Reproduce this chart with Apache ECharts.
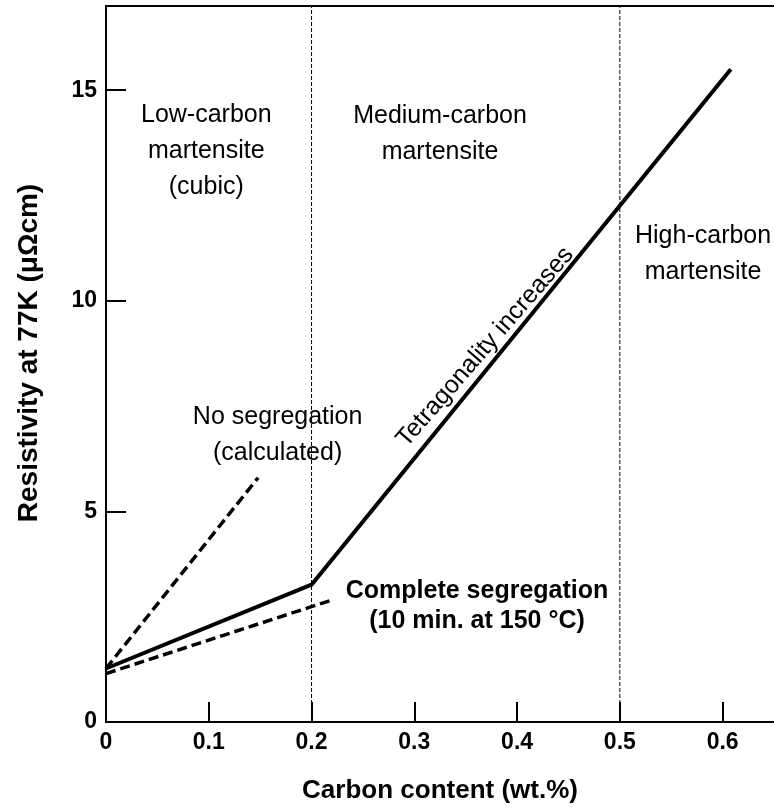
<!DOCTYPE html>
<html>
<head>
<meta charset="utf-8">
<script src="https://cdn.jsdelivr.net/npm/echarts@6/dist/echarts.min.js"></script>
<style>
  html, body { margin: 0; padding: 0; background: #fff; }
  #chart { width: 774px; height: 807px; }
</style>
</head>
<body>
<div id="chart"></div>
<script>
// Resistivity of martensite at 77 K versus carbon content
const xTicks = [0, 0.1, 0.2, 0.3, 0.4, 0.5, 0.6];
const yTicks = [0, 5, 10, 15];

// measured resistivity (solid line): low-carbon branch then tetragonal branch
const measured = [[0, 1.27], [0.2, 3.26], [0.608, 15.5]];
// calculated, no carbon segregation
const noSegregation = [[0, 1.27], [0.148, 5.8]];
// complete segregation after 10 min at 150 °C
const completeSegregation = [[0, 1.15], [0.219, 2.89]];
// regime boundaries (wt.% C)
const boundaries = [0.2, 0.5];

const FONT = "'Liberation Sans', Arial, Helvetica, sans-serif";
const Y_MAX = 17;
const X_MAX = 0.65;

const regular = { fontFamily: FONT, fontSize: 25, color: '#000', lineHeight: 36, align: 'center', verticalAlign: 'middle' };
const boldNote = { fontFamily: FONT, fontSize: 25, fontWeight: 'bold', color: '#000', lineHeight: 30, align: 'center', verticalAlign: 'middle' };

const notes = [
  { value: [0.0976, 13.55], text: 'Low-carbon\nmartensite\n(cubic)', style: regular },
  { value: [0.325, 13.95], text: 'Medium-carbon\nmartensite', style: regular },
  { value: [0.581, 11.1], text: 'High-carbon\nmartensite', style: regular },
  { value: [0.167, 6.81], text: 'No segregation\n(calculated)', style: regular },
  { value: [0.369, 8.9], text: 'Tetragonality increases', style: regular, rotate: 49 },
  { value: [0.361, 2.75], text: 'Complete segregation\n(10 min. at 150 °C)', style: boldNote }
];

const chart = echarts.init(document.getElementById('chart'), null, { renderer: 'canvas' });

const boundarySeries = boundaries.map((x, i) => ({
  name: 'boundary' + i,
  type: 'line',
  data: [[x, 0], [x, Y_MAX]],
  symbol: 'none',
  silent: true,
  lineStyle: { color: '#000', width: 1, type: [4, 2] },
  z: 1
}));

chart.setOption({
  animation: false,
  backgroundColor: '#fff',
  grid: { left: 106, right: 0, top: 6, bottom: 85, containLabel: false, outerBoundsMode: 'none' },
  xAxis: [{
    type: 'value',
    min: 0,
    max: X_MAX,
    name: 'Carbon content (wt.%)',
    nameLocation: 'middle',
    nameGap: 56,
    nameTextStyle: { fontFamily: FONT, fontSize: 26, fontWeight: 'bold', color: '#000' },
    axisLine: { show: true, onZero: false, lineStyle: { color: '#000', width: 2 } },
    axisTick: { show: true, inside: true, length: 20, customValues: xTicks, lineStyle: { color: '#000', width: 2 } },
    axisLabel: {
      show: true, margin: 9, customValues: xTicks,
      fontFamily: FONT, fontSize: 23, fontWeight: 'bold', color: '#000',
      formatter: v => (v === 0 ? '0' : v.toFixed(1))
    },
    splitLine: { show: false }
  }, {
    type: 'value',
    position: 'top',
    min: 0,
    max: X_MAX,
    axisLine: { show: true, onZero: false, lineStyle: { color: '#000', width: 2 } },
    axisTick: { show: false },
    axisLabel: { show: false },
    splitLine: { show: false }
  }],
  yAxis: {
    type: 'value',
    min: 0,
    max: Y_MAX,
    name: 'Resistivity at 77K (μΩcm)',
    nameLocation: 'middle',
    nameGap: 63,
    nameTextStyle: { fontFamily: FONT, fontSize: 28, fontWeight: 'bold', color: '#000', padding: [0, 0, 0, 22] },
    axisLine: { show: true, onZero: false, lineStyle: { color: '#000', width: 2 } },
    axisTick: { show: true, inside: true, length: 20, customValues: yTicks, lineStyle: { color: '#000', width: 2 } },
    axisLabel: {
      show: true, margin: 9, customValues: yTicks,
      fontFamily: FONT, fontSize: 23, fontWeight: 'bold', color: '#000'
    },
    splitLine: { show: false }
  },
  series: [
    ...boundarySeries,
    {
      name: 'No segregation',
      type: 'line',
      data: noSegregation,
      symbol: 'none',
      lineStyle: { color: '#000', width: 3.5, type: [10, 5] },
      z: 3
    },
    {
      name: 'Complete segregation',
      type: 'line',
      data: completeSegregation,
      symbol: 'none',
      lineStyle: { color: '#000', width: 3.5, type: [10, 5] },
      z: 3
    },
    {
      name: 'Measured',
      type: 'line',
      data: measured,
      symbol: 'none',
      lineStyle: { color: '#000', width: 4 },
      z: 4
    },
    {
      name: 'notes',
      type: 'scatter',
      symbolSize: 0,
      silent: true,
      itemStyle: { opacity: 1 },
      z: 5,
      data: notes.map(n => ({
        value: n.value,
        label: Object.assign({ show: true, position: 'inside', formatter: n.text, rotate: n.rotate || 0 }, n.style)
      }))
    }
  ]
});
</script>
</body>
</html>
